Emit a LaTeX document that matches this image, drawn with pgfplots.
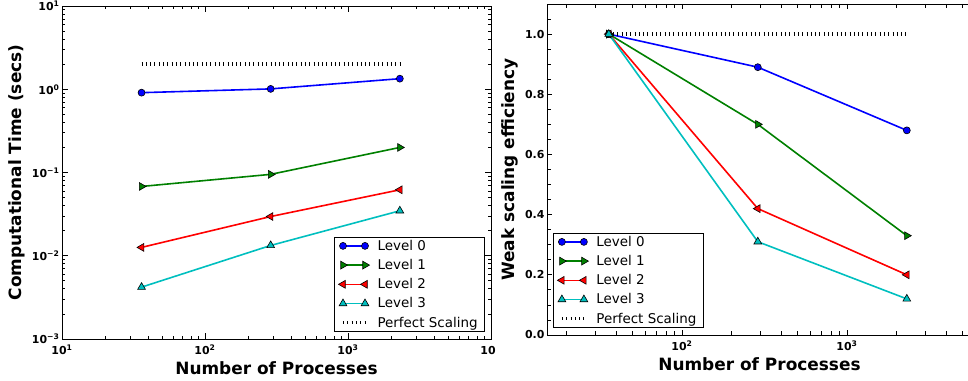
\documentclass[border=0pt]{standalone}
\usepackage{fontspec}
\setmainfont{DejaVu Sans}
\usepackage{pgfplots}
\pgfplotsset{compat=1.18}
\definecolor{mblue}{rgb}{0,0,1}
\definecolor{mgreen}{rgb}{0,0.5,0}
\definecolor{mred}{rgb}{1,0,0}
\definecolor{mcyan}{rgb}{0,0.75,0.75}
\pgfplotsset{
  common/.style={
    scale only axis,
    axis line style={line width=0.8bp},
    major tick length=6bp, minor tick length=3.5bp,
    every tick/.style={black, line width=0.8bp},
    tick align=inside,
    ticklabel style={font=\bfseries\fontsize{11}{13}\selectfont},
    xticklabel style={yshift=-2bp},
    yticklabel style={xshift=1bp},
    label style={font=\bfseries\fontsize{17}{20}\selectfont},
    /pgf/number format/assume math mode=true,
    legend style={font=\fontsize{13.5}{16}\selectfont, draw=black, line width=0.8bp,
      inner xsep=4bp, inner ysep=2bp, row sep=5.5bp, column sep=5bp,
      nodes={inner xsep=3bp, inner ysep=1bp}},
    legend cell align=left,
    legend image code/.code={\draw[##1] plot coordinates {(0bp,0bp) (22bp,0bp)};},
    clip=false,
  },
  lv0/.style={mblue, line width=1.6bp, mark=*, mark size=3.5bp, mark options={fill=mblue, draw=black, line width=0.6bp}},
  lv1/.style={mgreen, line width=1.6bp, mark=triangle*, mark size=4.5bp, mark options={rotate=-90, fill=mgreen, draw=black, line width=0.6bp}},
  lv2/.style={mred, line width=1.6bp, mark=triangle*, mark size=4.5bp, mark options={rotate=90, fill=mred, draw=black, line width=0.6bp}},
  lv3/.style={mcyan, line width=1.6bp, mark=triangle*, mark size=4.5bp, mark options={fill=mcyan, draw=black, line width=0.6bp}},
  perf/.style={black, line width=3.5bp, dash pattern=on 1bp off 3.3bp, no marks},
}
\begin{document}
\begin{tikzpicture}
\useasboundingbox (0,0) rectangle (968bp,381bp);
\begin{axis}[common,
  at={(62bp,42bp)}, anchor=south west,
  width=429bp, height=333bp,
  xmode=log, ymode=log,
  xmin=10, xmax=10000, ymin=0.001, ymax=10,
  xtick={10,100,1000,10000},
  xticklabels={10\textsuperscript{1},10\textsuperscript{2},10\textsuperscript{3},10\textsuperscript{\phantom{4}}},
  minor xtick={20,30,40,50,60,70,80,90,200,300,400,500,600,700,800,900,2000,3000,4000,5000,6000,7000,8000,9000},
  ytick={0.001,0.01,0.1,1,10},
  yticklabels={10\textsuperscript{−3},10\textsuperscript{−2},10\textsuperscript{−1},10\textsuperscript{0},10\textsuperscript{1}},
  minor ytick={0.002,0.003,0.004,0.005,0.006,0.007,0.008,0.009,0.02,0.03,0.04,0.05,0.06,0.07,0.08,0.09,0.2,0.3,0.4,0.5,0.6,0.7,0.8,0.9,2,3,4,5,6,7,8,9},
  xlabel={Number of Processes},
  ylabel={Computational Time (secs)},
  legend style={at={(axis description cs:1,0)}, anchor=south east, xshift=-6bp, yshift=7bp},
]
\addplot[lv0] coordinates {(36,0.91) (288,1.01) (2304,1.34)};
\addlegendentry{Level 0}
\addplot[lv1] coordinates {(36,0.068) (288,0.095) (2304,0.20)};
\addlegendentry{Level 1}
\addplot[lv2] coordinates {(36,0.0126) (288,0.0296) (2304,0.062)};
\addlegendentry{Level 2}
\addplot[lv3] coordinates {(36,0.0042) (288,0.0133) (2304,0.0347)};
\addlegendentry{Level 3}
\addplot[perf] coordinates {(36,2) (2304,2)};
\addlegendentry{Perfect Scaling}
\end{axis}
\begin{axis}[common,
  at={(547bp,46bp)}, anchor=south west,
  width=425bp, height=331bp,
  xmode=log,
  xmin=15.2, xmax=5722, ymin=0, ymax=1.1,
  xtick={100,1000},
  xticklabels={10\textsuperscript{2},10\textsuperscript{3}},
  minor xtick={20,30,40,50,60,70,80,90,200,300,400,500,600,700,800,900,2000,3000,4000,5000},
  ytick={0,0.2,0.4,0.6,0.8,1.0},
  minor ytick={0.05,0.1,0.15,0.25,0.3,0.35,0.45,0.5,0.55,0.65,0.7,0.75,0.85,0.9,0.95,1.05},
  minor tick length=4bp, major tick length=5bp,
  ytick pos=left,
  yticklabel style={/pgf/number format/.cd, fixed, fixed zerofill, precision=1},
  xlabel={Number of Processes},
  ylabel={Weak scaling efficiency},
  legend style={at={(axis description cs:0,0)}, anchor=south west, xshift=6bp, yshift=7bp},
]
\addplot[lv0] coordinates {(36,1.0) (288,0.89) (2304,0.68)};
\addlegendentry{Level 0}
\addplot[lv1] coordinates {(36,1.0) (288,0.70) (2304,0.33)};
\addlegendentry{Level 1}
\addplot[lv2] coordinates {(36,1.0) (288,0.42) (2304,0.20)};
\addlegendentry{Level 2}
\addplot[lv3] coordinates {(36,1.0) (288,0.31) (2304,0.12)};
\addlegendentry{Level 3}
\addplot[perf] coordinates {(36,1) (2304,1)};
\addlegendentry{Perfect Scaling}
\end{axis}
\end{tikzpicture}
\end{document}
